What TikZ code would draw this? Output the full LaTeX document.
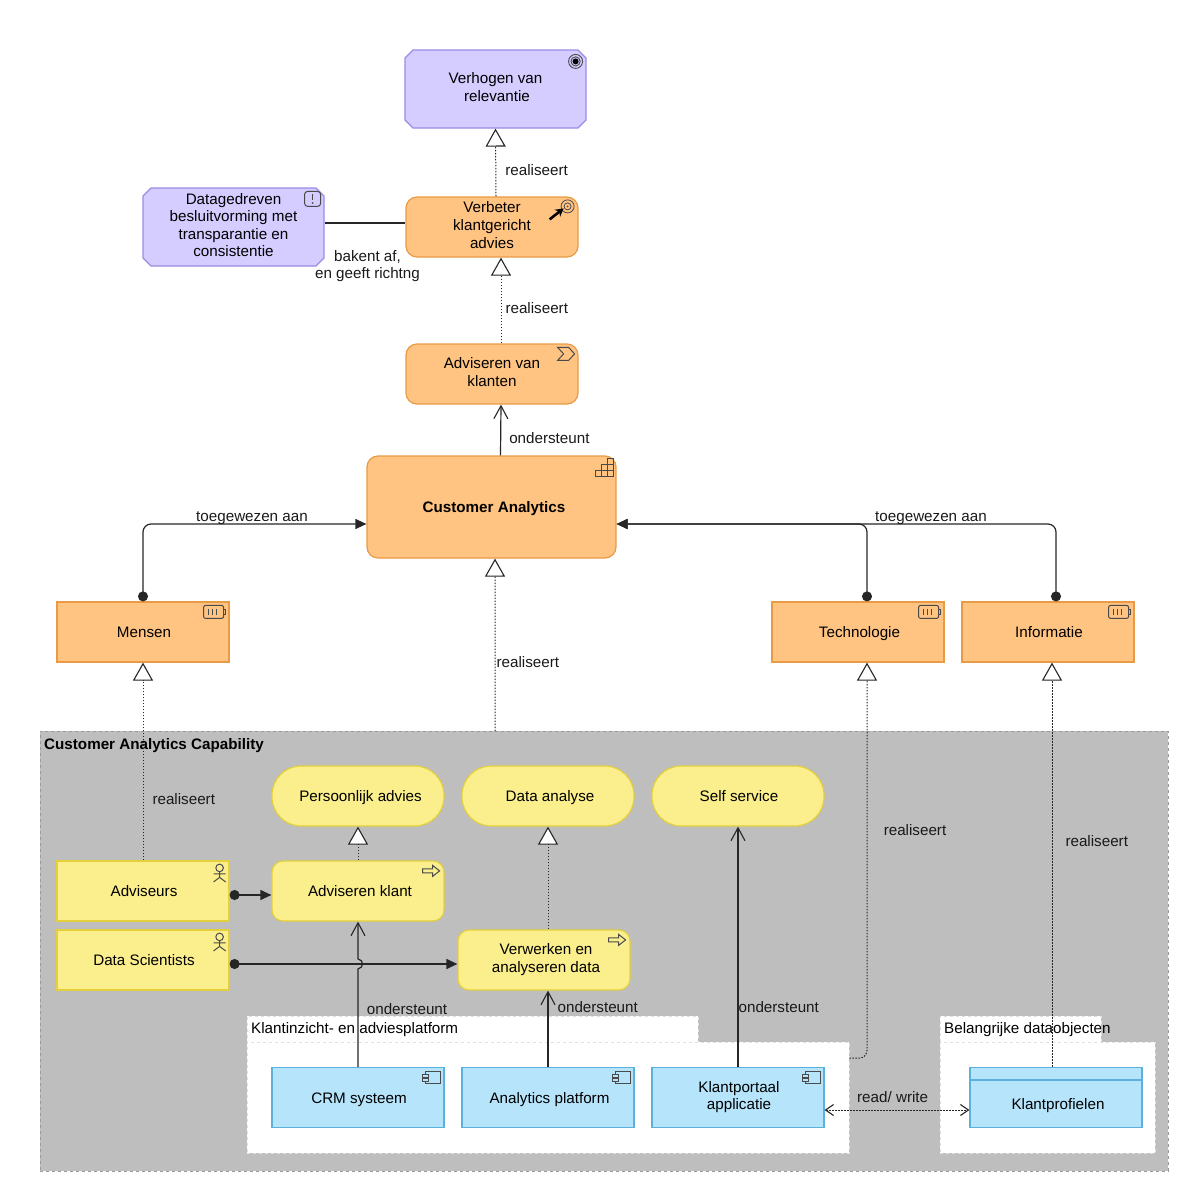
\documentclass[tikz,border=0pt]{standalone}
\usepackage{fontspec}
\setmainfont{Liberation Sans}
\usepackage{tikz}
\usetikzlibrary{arrows.meta}
\usetikzlibrary{positioning}
\usetikzlibrary{shapes.misc}
\definecolor{goalfill}{HTML}{D5CCFF}
\definecolor{goalline}{HTML}{9A8CE6}
\definecolor{stratfill}{HTML}{FFC382}
\definecolor{stratline}{HTML}{E99A45}
\definecolor{bizfill}{HTML}{FBEE8C}
\definecolor{bizline}{HTML}{E3D03A}
\definecolor{appfill}{HTML}{B5E4FB}
\definecolor{appline}{HTML}{5AB1DE}
\definecolor{groupfill}{HTML}{BEBEBE}
\definecolor{icon}{HTML}{4A4A4A}
\newcommand{\labelfont}{\fontsize{15.2}{17.6}\selectfont}
\newcommand{\labelstrut}{\rule[-4pt]{0pt}{19pt}}
\newcommand{\labelrows}{\rule[-4pt]{0pt}{23pt}}
\newcommand{\labelend}{\rule[-4pt]{0pt}{4pt}}

\tikzset{
    icongoal/.pic={
        \draw[icon, line width=.9pt] (-11,12) circle (7) (-11,12) circle (4.6);
        \fill[black] (-11,12) circle (3);
    },
    iconconstraint/.pic={
        \draw[icon, line width=1pt, rounded corners=3] (-20,4) rectangle (-4,19);
        \draw[icon, line width=1.6pt] (-12,7) -- (-12,13);
        \fill[icon] (-12,15.5) circle (1);
    },
    iconoutcome/.pic={
        \draw[icon, line width=.8pt] (-11,10) circle (6.5) (-11,10) circle (3.5);
        \fill[icon] (-11,10) circle (1);
        \draw[black, line width=2.6pt, -{Stealth[length=8pt,width=9pt]}] (-29,23) -- (-15,12);
    },
    iconstream/.pic={
        \draw[icon, line width=1pt] (-21,4) -- (-10,4) -- (-4,10.5) -- (-10,17) -- (-21,17) -- (-15,10.5) -- cycle;
    },
    iconstairs/.pic={
        \draw[icon, line width=1pt] (-21,21) -- (-21,15) -- (-15,15) -- (-15,9) -- (-9,9) -- (-9,3) -- (-3,3) -- (-3,21) -- cycle;
        \draw[icon, line width=1pt] (-21,15) -- (-3,15) (-15,9) -- (-3,9) (-15,15) -- (-15,21) (-9,9) -- (-9,21);
    },
    iconbattery/.pic={
        \draw[icon, line width=1pt, rounded corners=2] (-26,4) rectangle (-6,17);
        \draw[icon, line width=1pt] (-6,8) -- (-4,8) -- (-4,13) -- (-6,13);
        \draw[icon, line width=1pt] (-21,7.5) -- (-21,13.5) (-17,7.5) -- (-17,13.5) (-13,7.5) -- (-13,13.5);
    },
    iconactor/.pic={
        \draw[icon, line width=1pt] (-10,7.5) circle (3.8);
        \draw[icon, line width=1pt] (-10,11.5) -- (-10,17) (-16,13.5) -- (-4,13.5) (-16,21.5) -- (-10,17) -- (-4,21.5);
    },
    iconprocess/.pic={
        \draw[icon, line width=1pt] (-22,8.5) -- (-12,8.5) -- (-12,5) -- (-5,10.5) -- (-12,16) -- (-12,12.5) -- (-22,12.5) -- cycle;
    },
    iconcomponent/.pic={
        \draw[icon, line width=1pt, fill=appfill] (-19,5) rectangle (-4,17);
        \draw[icon, line width=1pt, fill=appfill] (-22,7.5) rectangle (-16,10.5) (-22,11.5) rectangle (-16,14.5);
    }
}

\begin{document}
\begin{tikzpicture}[
            x = 1pt,
            y = -1pt,
            node distance = 190pt, % distance between columns
            realize/.tip = {Triangle[length=18pt,width=20pt,fill=white,line width=1.1pt]},
            barb/.tip = {Straight Barb[length=13pt,width=14pt,line width=1.1pt]},
            smallbarb/.tip = {Straight Barb[length=8pt,width=11pt,line width=1.1pt]},
            solidtip/.tip = {Triangle[length=11pt,width=10pt]},
            dot/.tip = {Circle[length=10pt,width=10pt]}
        ]

        \tikzstyle{every node}=[
            font = \labelfont,
            align = center,
            inner sep = 0pt,
            execute at begin node = \labelstrut,
            execute at end node = \labelend
        ]
        \tikzstyle{rows}=[execute at begin node = \labelrows]
        \tikzstyle{box}=[
            draw,
            line width = 1.2pt,
            minimum width = 172pt,
            minimum height = 60pt
        ]
        \tikzstyle{goal}=[
            box,
            rows,
            chamfered rectangle,
            chamfered rectangle xsep = 4pt,
            chamfered rectangle ysep = 4pt,
            fill = goalfill,
            draw = goalline,
            minimum width = 181pt,
            minimum height = 78pt
        ]
        \tikzstyle{strat}=[box, fill = stratfill, draw = stratline]
        \tikzstyle{biz}=[box, fill = bizfill, draw = bizline]
        \tikzstyle{app}=[box, fill = appfill, draw = appline]
        \tikzstyle{service}=[biz, rounded corners = 29pt]
        \tikzstyle{package}=[
            draw = black!12,
            dashed,
            fill = white,
            anchor = north west
        ]
        \tikzstyle{lbl}=[text = black!90]
        \tikzstyle{real}=[dash pattern = on 1.5pt off 1.5pt, line width = 1pt, black!85]
        \tikzstyle{serv}=[line width = 1.2pt, black!85]
        \tikzstyle{assign}=[line width = 1.2pt, black!85, rounded corners = 8pt]

        \useasboundingbox (0,0) rectangle (1200,1200);

        % group and packages
        \node[draw = black!40, dashed, fill = groupfill, minimum width = 1128pt, minimum height = 440pt, anchor = north west] (capability) at (40,731) {};
        \node[font = \labelfont\bfseries, anchor = west] (capabilitytitle) at (44,744) {Customer Analytics Capability};

        \node[package, minimum width = 451pt, minimum height = 27pt] (klanttab) at (247,1016) {};
        \node[package, minimum width = 602pt, minimum height = 111pt] (klantbody) at (247,1042) {};
        \node[package, minimum width = 161pt, minimum height = 27pt] (datatab) at (940,1016) {};
        \node[package, minimum width = 215pt, minimum height = 111pt] (databody) at (940,1042) {};
        \node[anchor = west] (klanttitle) at (251,1028) {Klantinzicht- en adviesplatform};
        \node[anchor = west] (datatitle) at (944,1028) {Belangrijke dataobjecten};

        % motivation level
        \node[goal] (verhogen) at (495.5,89) {Verhogen van\\\hspace*{3pt}relevantie};
        \node[goal] (datagedreven) at (233.5,227) {Datagedreven\\besluitvorming met\\transparantie en\\consistentie};
        \node[strat, rows, rounded corners = 11pt] (verbeter) at (492,227) {Verbeter\\klantgericht\\advies};

        % strategy level
        \node[strat, rows, rounded corners = 11pt] (adviseren) at (492,374) {Adviseren van\\klanten};
        \node[strat, rounded corners = 11pt, minimum width = 249pt, minimum height = 102pt, font = \labelfont\bfseries] (ca) at (491.5,507) {\hspace*{5pt}Customer Analytics};
        \node[strat] (mensen) at (143,632) {\hspace*{2pt}Mensen};
        \node[strat] (tech) at (858,632) {\hspace*{3pt}Technologie};
        \node[strat] (info) [right of = tech] {\hspace*{2pt}Informatie};

        % business level
        \node[service] (persoonlijk) at (358,796) {\hspace*{5pt}Persoonlijk advies};
        \node[service] (analyse) [right of = persoonlijk] {\hspace*{4pt}Data analyse};
        \node[service] (self) [right of = analyse] {\hspace*{2pt}Self service};
        \node[biz] (adviseurs) at (143,891) {\hspace*{2pt}Adviseurs};
        \node[biz, rounded corners = 11pt] (advklant) at (358,891) {\hspace*{4pt}Adviseren klant};
        \node[biz] (scientists) at (143,960) {\hspace*{2pt}Data Scientists};
        \node[biz, rows, rounded corners = 11pt] (verwerken) at (544,960) {\hspace*{4pt}Verwerken en\\\hspace*{4pt}analyseren data};

        % application level
        \node[app] (crm) at (358,1097.5) {\hspace*{2pt}CRM systeem};
        \node[app] (platform) [right of = crm] {\hspace*{3pt}Analytics platform};
        \node[app, rows] (portaal) [right of = platform] {\hspace*{2pt}Klantportaal\\\hspace*{2pt}applicatie};
        \node[app] (profielen) at (1056,1097.5) {\hspace*{4pt}\raisebox{-6pt}[0pt][0pt]{Klantprofielen}};
        \draw[appline, line width = 1.2pt] ([yshift=-13pt]profielen.north west) -- ([yshift=-13pt]profielen.north east);

        % icons
        \pic at (verhogen.east |- verhogen.north) {icongoal};
        \pic at (datagedreven.east |- datagedreven.north) {iconconstraint};
        \pic at (verbeter.north east) {iconoutcome};
        \pic at (adviseren.north east) {iconstream};
        \pic at (ca.north east) {iconstairs};
        \pic at (mensen.north east) {iconbattery};
        \pic at (tech.north east) {iconbattery};
        \pic at (info.north east) {iconbattery};
        \pic at (adviseurs.north east) {iconactor};
        \pic at (scientists.north east) {iconactor};
        \pic at (advklant.north east) {iconprocess};
        \pic at (verwerken.north east) {iconprocess};
        \pic at (crm.north east) {iconcomponent};
        \pic at (platform.north east) {iconcomponent};
        \pic at (portaal.north east) {iconcomponent};

        % realisation
        \path[real, -realize] ([xshift=4pt]verbeter.north) edge node[lbl, right = 9pt, pos = .39] {realiseert} (verhogen.south);
        \path[real, -realize] ([xshift=9pt]adviseren.north) edge node[lbl, right = 4pt, pos = .41] {realiseert} ([xshift=9pt]verbeter.south);
        \path[real, -realize] ([xshift=-109pt]capability.north) edge node[lbl, right = 1pt, pos = .40] {realiseert} ([xshift=3.5pt]ca.south);
        \path[real, -realize] (adviseurs.north) edge node[lbl, right = 9pt, pos = .31] {realiseert} (mensen.south);
        \path[real, -realize] (advklant.north) edge (persoonlijk.south);
        \path[real, -realize] ([xshift=4pt]verwerken.north) edge (analyse.south);
        \path[real, -realize] ([xshift=-4pt]profielen.north) edge node[lbl, right = 13pt, pos = .56] {realiseert} ([xshift=4pt]info.south);
        \draw[real, rounded corners = 8pt, -realize] ([yshift=39.5pt]klantbody.east) -| ([xshift=9pt]tech.south);
        \node[lbl] (realiseerttech) at (915,830) {realiseert};

        % serving
        \path[serv, -barb] ([xshift=9pt]ca.north) edge node[lbl, right = 8pt, pos = .35] {ondersteunt} ([xshift=9pt]adviseren.south);
        \draw[serv, -barb] (crm.north) -- ++(0,-98) .. controls +(6,-1) and +(6,1) .. ++(0,-10) -- (advklant.south);
        \path[serv, -barb] (platform.north) edge node[lbl, right = 9pt, pos = .78] {ondersteunt} (verwerken.south -| platform.north);
        \path[serv, -barb] (portaal.north) edge node[lbl, right = 0pt, pos = .25] {ondersteunt} (self.south);
        \node[lbl] (ondersteuntcrm) at (407,1009) {ondersteunt};

        % assignment
        \draw[assign, dot-solidtip] (mensen.north) |- ([yshift=-17pt]ca.west);
        \draw[assign, dot-solidtip] ([xshift=9pt]tech.north) |- ([yshift=-17pt]ca.east);
        \draw[assign, dot-solidtip] ([xshift=8pt]info.north) |- ([yshift=-17pt]ca.east);
        \draw[serv, dot-solidtip] ([yshift=-4pt]adviseurs.east) -- ([yshift=-4pt]advklant.west);
        \draw[serv, dot-solidtip] ([yshift=-4pt]scientists.east) -- ([yshift=-4pt]verwerken.west);
        \node[lbl] (toegewezenl) at (252,516) {toegewezen aan};
        \node[lbl] (toegewezenr) at (931,516) {toegewezen aan};

        % influence and access
        \draw[serv] ([yshift=4pt]datagedreven.east) -- ([yshift=4pt]verbeter.west);
        \node[lbl, rows] (bakent) at (367.5,266.5) {bakent af,\\en geeft richtng};
        \path[real, smallbarb-smallbarb] ([yshift=-12.5pt]portaal.east) edge node[lbl, above = 3pt, pos = .47] {read/ write} ([yshift=-12.5pt]profielen.west);

\end{tikzpicture}
\end{document}
